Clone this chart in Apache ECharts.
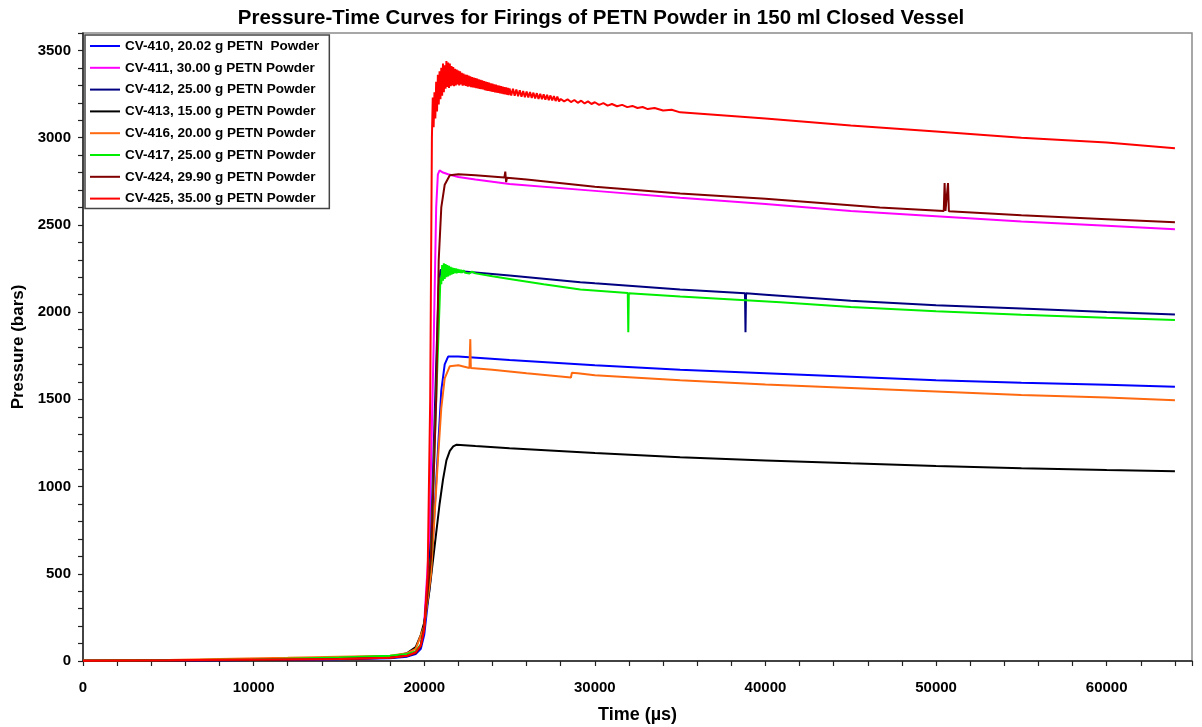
<!DOCTYPE html>
<html>
<head>
<meta charset="utf-8">
<title>Pressure-Time Curves for Firings of PETN Powder</title>
<script src="https://cdn.jsdelivr.net/npm/echarts@6/dist/echarts.min.js"></script>
<style>
  html, body { margin: 0; padding: 0; background: #fff; }
  #chart { width: 1202px; height: 727px; }
</style>
</head>
<body>
<div id="chart"></div>
<script>
// Closed-vessel firings: pressure (bars) versus time (µs)
const seriesNames = [
  'CV-410, 20.02 g PETN  Powder',
  'CV-411, 30.00 g PETN Powder',
  'CV-412, 25.00 g PETN Powder',
  'CV-413, 15.00 g PETN Powder',
  'CV-416, 20.00 g PETN Powder',
  'CV-417, 25.00 g PETN Powder',
  'CV-424, 29.90 g PETN Powder',
  'CV-425, 35.00 g PETN Powder'
];
const seriesColors = ['#0000ff', '#ff00ff', '#000080', '#000000', '#ff6a10', '#00ee00', '#800000', '#ff0000'];

const xTickLabels = [0, 10000, 20000, 30000, 40000, 50000, 60000];
const yTickLabels = [0, 500, 1000, 1500, 2000, 2500, 3000, 3500];

// [time µs, pressure bars]
const cv410 = [
  [0, 1], [5000, 3], [10000, 6], [15000, 10], [18000, 16], [19000, 25], [19500, 40], [19800, 70],
  [20000, 150], [20400, 500], [20800, 1200], [21000, 1550], [21200, 1700], [21400, 1745],
  [22000, 1745], [25000, 1725], [30000, 1695], [35000, 1670], [40000, 1650], [45000, 1630],
  [50000, 1610], [55000, 1595], [60000, 1583], [64000, 1572]
];
const cv411 = [
  [0, 2], [5000, 4], [10000, 7], [15000, 12], [18000, 20], [19000, 32], [19500, 50], [19800, 95],
  [20000, 220], [20300, 700], [20550, 1800], [20700, 2600], [20800, 2790], [20900, 2812],
  [21100, 2800], [21400, 2790], [22000, 2775], [23000, 2760], [25000, 2735], [30000, 2695],
  [35000, 2655], [40000, 2620], [45000, 2580], [50000, 2550], [55000, 2520], [60000, 2495], [64000, 2475]
];
const cv412 = [
  [0, 1], [5000, 3], [10000, 6], [15000, 11], [18000, 18], [19000, 28], [19500, 45], [19800, 85],
  [20000, 200], [20400, 700], [20700, 1700], [20850, 2150], [20950, 2240], [21200, 2250],
  [22000, 2235], [25000, 2210], [29150, 2171], [30000, 2165], [35000, 2130], [38800, 2108],
  [38830, 1884], [38860, 2108], [40000, 2100], [45000, 2065], [50000, 2040], [55000, 2020],
  [60000, 2000], [64000, 1987]
];
const cv413 = [
  [0, 2], [5000, 5], [10000, 8], [15000, 15], [18000, 25], [19000, 45], [19500, 80], [19800, 150],
  [20000, 220], [20300, 400], [20600, 650], [20900, 900], [21100, 1040], [21300, 1150],
  [21500, 1205], [21700, 1230], [21900, 1240], [23000, 1232], [25000, 1220], [30000, 1192],
  [35000, 1168], [40000, 1150], [45000, 1133], [50000, 1118], [55000, 1105], [60000, 1095], [64000, 1088]
];
const cv416 = [
  [0, 3], [5000, 6], [8000, 12], [12000, 18], [15000, 25], [18000, 30], [19000, 45], [19500, 70],
  [20000, 200], [20400, 500], [20800, 1150], [21000, 1450], [21200, 1620], [21500, 1690],
  [22000, 1695], [22650, 1680], [22700, 1845], [22730, 1680], [24000, 1670], [26000, 1650],
  [28600, 1625], [28650, 1652], [29000, 1650], [30000, 1638], [35000, 1610], [40000, 1585],
  [45000, 1565], [50000, 1545], [55000, 1525], [60000, 1510], [64000, 1495]
];
const cv417 = [
  [0, 2], [5000, 4], [10000, 8], [15000, 20], [18000, 30], [19000, 40], [19500, 55], [19800, 95],
  [20000, 200], [20400, 600], [20700, 1500], [20900, 2050], [20950, 2200], [21000, 2160],
  [21050, 2270], [21100, 2180], [21150, 2280], [21200, 2190], [21250, 2275], [21300, 2200],
  [21350, 2270], [21400, 2205], [21450, 2265], [21500, 2210], [21550, 2260], [21600, 2215],
  [21650, 2255], [21700, 2220], [21750, 2252], [21800, 2224], [21850, 2250], [21900, 2222],
  [21950, 2248], [22000, 2226], [22050, 2245], [22100, 2225], [22150, 2242], [22200, 2226],
  [22300, 2240], [22400, 2225], [22500, 2236], [22650, 2222], [22800, 2232], [23000, 2222],
  [24000, 2205], [25000, 2190], [27000, 2160], [29150, 2130], [31930, 2110], [31960, 1884],
  [31990, 2108], [35000, 2090], [40880, 2056], [45000, 2030], [50000, 2005], [55000, 1985],
  [60000, 1968], [64000, 1955]
];
const cv424 = [
  [0, 1], [5000, 3], [10000, 6], [15000, 11], [18000, 18], [19000, 30], [19500, 45], [19800, 85],
  [20000, 200], [20400, 600], [20700, 1500], [20850, 2300], [21000, 2600], [21200, 2730],
  [21500, 2785], [22000, 2790], [23000, 2785], [24700, 2772], [24750, 2805], [24800, 2745],
  [24850, 2770], [26000, 2760], [30000, 2718], [35000, 2680], [40000, 2650], [46700, 2600],
  [50450, 2580], [50500, 2740], [50550, 2580], [50650, 2578], [50700, 2740], [50750, 2578],
  [55000, 2555], [60000, 2533], [64000, 2515]
];
const cv425 = [
  [0, 2], [5000, 4], [10000, 8], [15000, 12], [18000, 18], [19000, 30], [19500, 50], [19800, 90],
  [20000, 180], [20200, 500], [20350, 1500], [20450, 3000],
  [20500, 3230], [20550, 3060], [20600, 3260], [20650, 3110], [20700, 3320], [20750, 3150],
  [20800, 3360], [20850, 3190], [20900, 3380], [20950, 3220], [21000, 3400], [21050, 3240],
  [21100, 3425], [21150, 3260], [21200, 3415], [21250, 3280], [21300, 3440], [21350, 3290],
  [21400, 3430], [21450, 3285], [21500, 3425], [21550, 3295], [21600, 3410], [21650, 3300],
  [21700, 3405], [21750, 3295], [21800, 3395], [21850, 3300], [21900, 3390], [21950, 3305],
  [22000, 3385], [22050, 3300], [22100, 3380], [22150, 3305], [22200, 3372], [22250, 3298],
  [22300, 3368], [22350, 3300], [22400, 3362], [22450, 3296], [22500, 3360], [22550, 3292],
  [22600, 3356], [22650, 3294], [22700, 3352], [22750, 3290], [22800, 3348], [22850, 3288],
  [22900, 3345], [22950, 3286], [23000, 3342], [23050, 3284], [23100, 3338], [23150, 3282],
  [23200, 3335], [23250, 3280], [23300, 3332], [23350, 3278], [23400, 3328], [23450, 3276],
  [23500, 3325], [23550, 3272], [23600, 3322], [23650, 3270], [23700, 3318], [23750, 3268],
  [23800, 3315], [23850, 3266], [23900, 3312], [23950, 3264], [24000, 3310], [24050, 3262],
  [24100, 3306], [24150, 3260], [24200, 3304], [24250, 3258], [24300, 3300], [24350, 3256],
  [24400, 3298], [24450, 3254], [24500, 3295], [24550, 3252], [24600, 3292], [24650, 3250],
  [24700, 3290], [24750, 3248], [24800, 3288], [24850, 3246], [24900, 3285], [24950, 3244],
  [25000, 3282], [25100, 3242], [25200, 3280], [25300, 3240], [25400, 3276], [25500, 3238],
  [25600, 3272], [25700, 3235], [25800, 3268], [25900, 3232], [26000, 3265], [26100, 3230],
  [26200, 3262], [26300, 3228], [26400, 3258], [26500, 3225], [26600, 3255], [26700, 3222],
  [26800, 3252], [26900, 3220], [27000, 3248], [27100, 3218], [27200, 3245], [27300, 3215],
  [27400, 3242], [27500, 3213], [27600, 3238], [27700, 3210], [27800, 3235], [27900, 3208],
  [28000, 3222], [28200, 3208], [28400, 3220], [28600, 3204], [28800, 3216], [29000, 3200],
  [29200, 3212], [29400, 3196], [29600, 3208], [29800, 3193], [30000, 3203], [30250, 3188],
  [30500, 3198], [30750, 3184], [31000, 3193], [31300, 3180], [31600, 3188], [31900, 3175],
  [32200, 3182], [32500, 3170], [32800, 3176], [33100, 3164], [33500, 3170], [34000, 3156],
  [34500, 3160], [35000, 3145], [40000, 3110], [45000, 3070], [50000, 3035],
  [55000, 3000], [60000, 2972], [64000, 2940]
];

const seriesData = [cv410, cv411, cv412, cv413, cv416, cv417, cv424, cv425];

const FONT = '"Liberation Sans", Arial, sans-serif';
const chart = echarts.init(document.getElementById('chart'), null, { renderer: 'canvas' });

chart.setOption({
  animation: false,
  backgroundColor: '#ffffff',
  title: {
    text: 'Pressure-Time Curves for Firings of PETN Powder in 150 ml Closed Vessel',
    left: 'center',
    top: 3,
    textStyle: { fontFamily: FONT, fontWeight: 'bold', fontSize: 20.5, color: '#000' }
  },
  legend: {
    orient: 'vertical',
    left: 85,
    top: 35,
    data: seriesNames,
    icon: 'rect',
    itemWidth: 30,
    itemHeight: 2,
    itemGap: 7.8,
    padding: [4, 10, 3, 5],
    backgroundColor: '#ffffff',
    borderColor: '#444',
    borderWidth: 1.5,
    textStyle: { fontFamily: FONT, fontWeight: 'bold', fontSize: 13.5, color: '#000', lineHeight: 14 }
  },
  grid: {
    left: 83, right: 10, top: 33, bottom: 66,
    containLabel: false,
    outerBoundsMode: 'none',
    show: true, borderColor: '#8a8a8a', borderWidth: 1.5, backgroundColor: '#fff'
  },
  xAxis: {
    type: 'value',
    min: 0, max: 65000, interval: 2000,
    name: 'Time (\u00b5s)',
    nameLocation: 'middle',
    nameGap: 45,
    nameTextStyle: { fontFamily: FONT, fontWeight: 'bold', fontSize: 18, color: '#000' },
    axisLine: { show: true, onZero: false, lineStyle: { color: '#222', width: 1.5 } },
    axisTick: { show: true, inside: false, length: 5, lineStyle: { color: '#222', width: 1.2 } },
    axisLabel: {
      margin: 19,
      fontFamily: FONT, fontWeight: 'bold', fontSize: 15, color: '#000',
      formatter: v => (xTickLabels.indexOf(v) >= 0 ? String(v) : '')
    },
    splitLine: { show: false }
  },
  yAxis: {
    type: 'value',
    min: 0, max: 3600, interval: 100,
    name: 'Pressure (bars)',
    nameLocation: 'middle',
    nameGap: 55,
    nameRotate: 90,
    nameTextStyle: { fontFamily: FONT, fontWeight: 'bold', fontSize: 17, color: '#000' },
    axisLine: { show: true, onZero: false, lineStyle: { color: '#222', width: 1.5 } },
    axisTick: { show: true, inside: false, length: 5, lineStyle: { color: '#222', width: 1.2 } },
    axisLabel: {
      margin: 12,
      fontFamily: FONT, fontWeight: 'bold', fontSize: 15, color: '#000',
      formatter: v => (yTickLabels.indexOf(v) >= 0 ? String(v) : '')
    },
    splitLine: { show: false }
  },
  series: seriesNames.map((name, i) => ({
    name: name,
    type: 'line',
    data: seriesData[i],
    showSymbol: false,
    symbol: 'none',
    color: seriesColors[i],
    lineStyle: { color: seriesColors[i], width: 2 },
    emphasis: { disabled: true }
  }))
});
</script>
</body>
</html>
